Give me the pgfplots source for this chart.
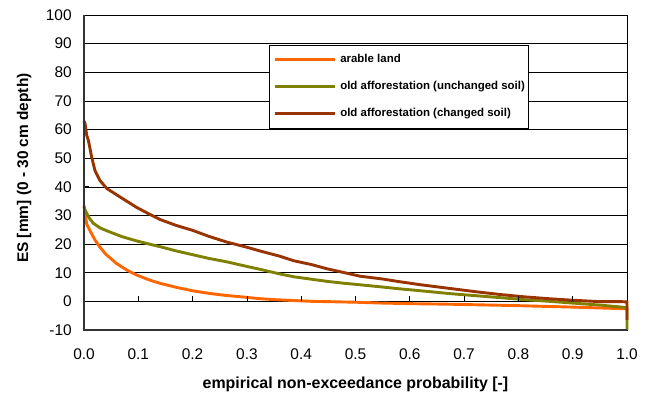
\documentclass[border=0pt]{standalone}
\usepackage{fontspec}
\setmainfont{Liberation Sans}
\usepackage{pgfplots}
\pgfplotsset{compat=1.18}
\definecolor{arable}{HTML}{FF6600}
\definecolor{unch}{HTML}{808000}
\definecolor{chan}{HTML}{993300}
\begin{document}
\begin{tikzpicture}
\begin{axis}[
  scale only axis,
  width=543bp, height=315bp,
  xmin=0, xmax=1, ymin=-10, ymax=100,
  xtick={0,0.1,...,1.0},
  ytick={-10,0,...,100},
  xticklabels={0.0,0.1,0.2,0.3,0.4,0.5,0.6,0.7,0.8,0.9,1.0},
  /pgf/number format/assume math mode=true,
  ticklabel style={font=\fontsize{15.5}{18}\selectfont},
  yticklabel style={xshift=-8.8bp},
  xticklabel style={yshift=-15bp},
  x tick style={draw=none},
  ytick pos=left,
  tick align=inside,
  major tick length=5bp,
  y tick style={black, line width=0.8bp},
  ymajorgrids,
  major grid style={black, line width=0.6bp},
  axis line style={black, line width=0.8bp},
  clip=false,
  xlabel={\bfseries empirical non-exceedance probability [-]},
  ylabel={\bfseries ES [mm] (0 - 30 cm depth)},
  xlabel style={font=\fontsize{16}{18}\selectfont, at={(axis description cs:0.5,0)}, anchor=base, yshift=-58bp},
  ylabel style={font=\fontsize{15.5}{18}\selectfont, at={(axis description cs:-0.1031,0.514)}, anchor=base},
  legend style={at={(axis description cs:0.3407,0.9048)}, anchor=north west,
    draw=black, line width=0.8bp, fill=white, inner xsep=4bp, inner ysep=9bp,
    font=\fontsize{11.5}{13}\selectfont\bfseries,
    nodes={inner sep=0pt, text height=8.5bp, text depth=2.5bp, anchor=west},
    /tikz/row sep=16bp, /tikz/column sep=4bp},
  legend cell align=left,
  legend image code/.code={\path (-31bp,0) -- (0bp,0); \draw[#1] (0bp,0bp) -- (29bp,0bp);},
]
\coordinate (bl) at (rel axis cs:0,0);
\coordinate (tr) at (rel axis cs:1,1);
\addplot[arable, line width=2.9bp] coordinates {
(0,33.5) (0.002,31) (0.005,27) (0.011,24.7) (0.02,21.5) (0.029,19) (0.04,16.5)
(0.06,13.2) (0.08,10.8) (0.097,9.2) (0.12,7.5) (0.14,6.3) (0.17,4.9) (0.2,3.7)
(0.23,2.8) (0.26,2.1) (0.3,1.4) (0.32,1.0) (0.35,0.6) (0.385,0.3) (0.42,0.0)
(0.45,-0.1) (0.5,-0.3) (0.55,-0.6) (0.6,-0.8) (0.674,-1.0) (0.75,-1.3) (0.8,-1.5)
(0.858,-1.8) (0.9,-2.0) (0.95,-2.3) (1.0,-2.6)};
\addlegendentry{arable land}
\addplot[unch, line width=2.9bp] coordinates {
(0,33) (0.003,31.5) (0.01,29) (0.017,27.3) (0.03,25.6) (0.048,24.2) (0.07,22.6)
(0.097,21.1) (0.12,20) (0.14,19.1) (0.17,17.6) (0.2,16.3) (0.23,15) (0.263,13.8)
(0.3,12.2) (0.324,11.2) (0.36,9.6) (0.386,8.6) (0.42,7.7) (0.447,7.0) (0.48,6.3)
(0.508,5.8) (0.55,5.0) (0.58,4.4) (0.62,3.7) (0.674,2.7) (0.72,2.0) (0.766,1.3)
(0.81,0.6) (0.858,0.0) (0.9,-0.6) (0.95,-1.3) (0.99,-2.0) (1.0,-2.3) (1.0,-10)};
\addlegendentry{old afforestation (unchanged soil)}
\addplot[chan, line width=2.9bp] coordinates {
(0,63) (0.002,62) (0.005,58) (0.008,56.3) (0.014,50.5) (0.02,45.8) (0.029,42.3)
(0.042,39.4) (0.066,36.5) (0.097,32.8) (0.12,30.5) (0.14,28.6) (0.17,26.5)
(0.2,24.8) (0.23,22.7) (0.263,20.7) (0.3,18.9) (0.324,17.6) (0.36,15.8)
(0.386,14.2) (0.42,12.8) (0.447,11.4) (0.48,10.0) (0.508,8.8) (0.55,7.8)
(0.58,6.9) (0.62,5.8) (0.674,4.5) (0.72,3.4) (0.766,2.4) (0.81,1.6) (0.858,0.9)
(0.9,0.4) (0.95,-0.1) (0.99,-0.1) (1.0,-0.2) (1.0,-6.5)};
\addlegendentry{old afforestation (changed soil)}
\pgfplotsinvokeforeach{0.1,0.2,0.3,0.4,0.5,0.6,0.7,0.8,0.9}{
  \draw[black, line width=0.8bp] (axis cs:#1,0) -- ([yshift=5bp]axis cs:#1,0);
}
\draw[black!80, line width=1.8bp] (rel axis cs:0,1) -- (rel axis cs:0,0) -- (rel axis cs:1,0);
\end{axis}
\pgfresetboundingbox
\path ([shift={(-84bp,-65bp)}]bl) rectangle ([shift={(24bp,15bp)}]tr);
\end{tikzpicture}
\end{document}
